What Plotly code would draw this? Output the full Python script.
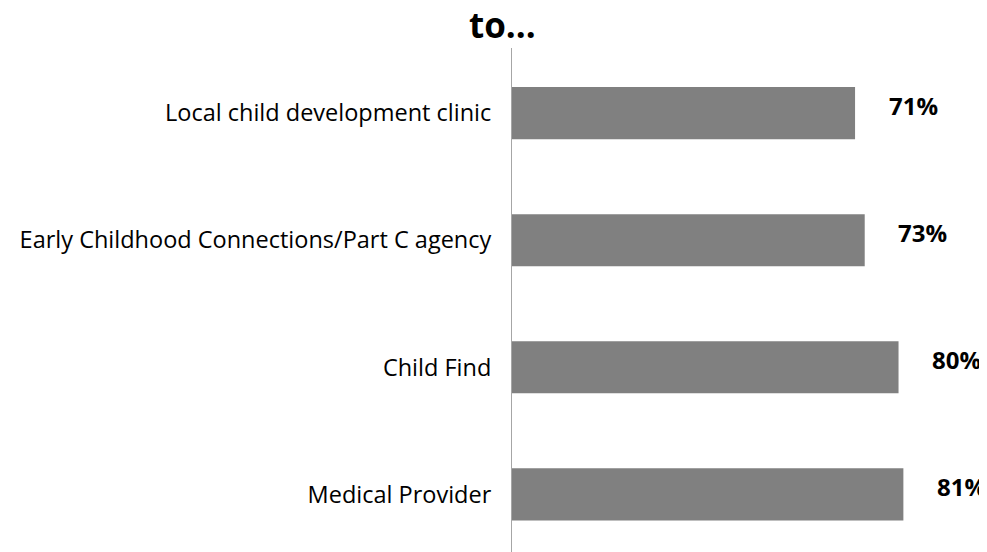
import plotly.graph_objects as go

categories = ["Local child development clinic",
              "Early Childhood Connections/Part C agency",
              "Child Find",
              "Medical Provider"]
values = [71, 73, 80, 81]
labels = ["71%", "73%", "80%", "81%"]

FONT = "Open Sans"

fig = go.Figure()
fig.add_trace(go.Bar(
    x=values, y=categories, orientation="h",
    marker=dict(color="#808080", line=dict(width=0)),
    width=0.41, hoverinfo="skip",
))

for v, c, t in zip(values, categories, labels):
    fig.add_annotation(x=v, y=c, xref="x", yref="y", text="<b>%s</b>" % t,
                       showarrow=False, xanchor="center", yanchor="middle",
                       xshift=58, yshift=8,
                       font=dict(family=FONT, size=24, color="#000000"))

fig.update_layout(
    width=979, height=544,
    margin=dict(l=504, r=1, t=40, b=0, autoexpand=False),
    paper_bgcolor="white", plot_bgcolor="white",
    showlegend=False,
    title=dict(text="<b>to...</b>", x=0.505, xanchor="center", y=0.99, yanchor="top",
               font=dict(family=FONT, size=35, color="#000000"), automargin=False),
    xaxis=dict(range=[0, 98.1], visible=False, fixedrange=True, automargin=False),
    yaxis=dict(type="category", categoryorder="array", categoryarray=categories,
               range=[3.453, -0.512], showline=True, linecolor="#a6a6a6", linewidth=1,
               showgrid=False, zeroline=False, ticks="", ticklabelstandoff=15,
               automargin=False,
               tickfont=dict(family=FONT, size=23.5, color="#000000")),
)

fig.write_html("out.html")
